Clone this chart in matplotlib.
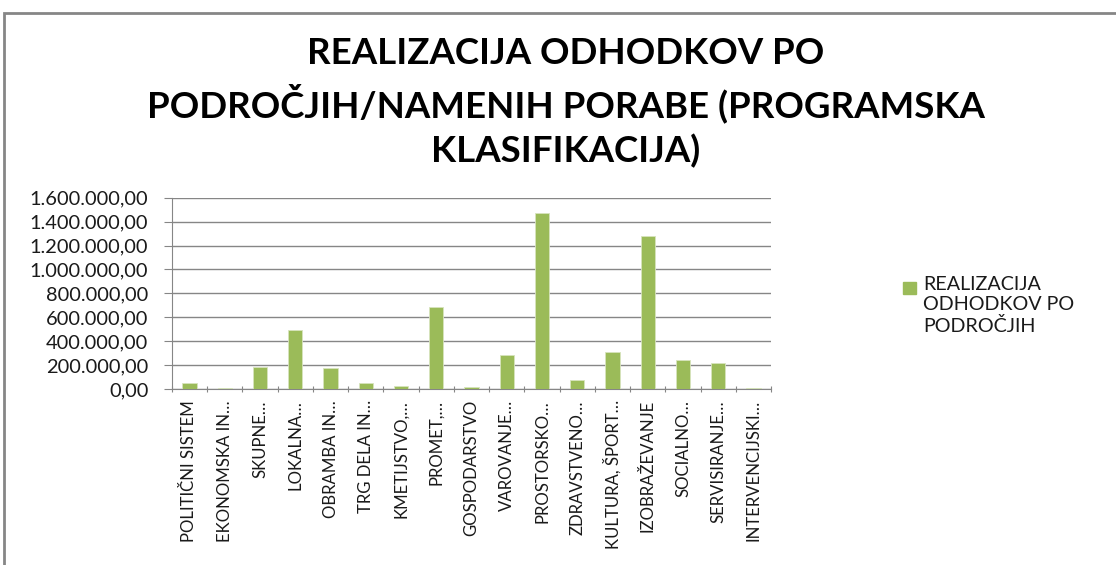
import matplotlib.pyplot as plt
from matplotlib.patches import Rectangle
from matplotlib.ticker import FuncFormatter
import numpy as np

plt.rcParams['font.family'] = ['Lato', 'DejaVu Sans']

# kategorije (skrajšane kot v izvirniku)
categories = [
    'POLITIČNI SISTEM', 'EKONOMSKA IN…', 'SKUPNE…', 'LOKALNA…', 'OBRAMBA IN…',
    'TRG DELA IN…', 'KMETIJSTVO,…', 'PROMET,…', 'GOSPODARSTVO', 'VAROVANJE…',
    'PROSTORSKO…', 'ZDRAVSTVENO…', 'KULTURA, ŠPORT…', 'IZOBRAŽEVANJE',
    'SOCIALNO…', 'SERVISIRANJE…', 'INTERVENCIJSKI…',
]
values = [
    53000, 8000, 182000, 491000, 173000,
    53000, 27000, 686000, 17000, 285000,
    1470000, 75000, 310000, 1280000,
    240000, 215000, 8000,
]
series_name = 'REALIZACIJA\nODHODKOV PO\nPODROČJIH'
title = 'REALIZACIJA ODHODKOV PO\nPODROČJIH/NAMENIH PORABE (PROGRAMSKA\nKLASIFIKACIJA)'
y_ticks = [0, 200000, 400000, 600000, 800000, 1000000, 1200000, 1400000, 1600000]

bar_color = '#9BBB59'
grid_color = '#868686'


def fmt_si(v, pos):
    s = f'{v:,.2f}'
    return s.replace(',', 'X').replace('.', ',').replace('X', '.')


fig = plt.figure(figsize=(11.16, 5.65), dpi=100)
ax = fig.add_axes([0.154, 0.3115, 0.537, 0.3385])

x = np.arange(len(categories))
ax.bar(x, values, width=0.4, color=bar_color, edgecolor='#d7e4bd', linewidth=0.6,
       zorder=3)

ax.set_xlim(-0.5, len(categories) - 0.5)
ax.set_ylim(0, 1600000)
ax.set_yticks(y_ticks)
ax.yaxis.set_major_formatter(FuncFormatter(fmt_si))
ax.yaxis.grid(True, color=grid_color, linewidth=1, zorder=0)

# kljukice na mejah kategorij, napisi na sredini
ax.set_xticks(np.arange(len(categories) + 1) - 0.5)
ax.set_xticklabels([])
ax.set_xticks(x, minor=True)
ax.set_xticklabels(categories, minor=True, rotation=90, va='top', ha='center')
ax.tick_params(axis='x', which='minor', length=0, pad=8, labelsize=12.1, colors='#1a1a1a')
ax.tick_params(axis='x', which='major', length=5, color=grid_color, direction='inout')
ax.tick_params(axis='y', length=6, color=grid_color, labelsize=14.4, pad=11, labelcolor='#1a1a1a')

for side in ['top', 'right']:
    ax.spines[side].set_visible(False)
ax.spines['left'].set_color(grid_color)
ax.spines['bottom'].set_color(grid_color)

fig.text(0.507, 0.818, title, ha='center', va='center', fontsize=26.4, fontweight='bold',
         linespacing=1.38)

# legenda (ročno, kvadrat poravnan s prvo vrstico kot v Excelu)
fig.patches.append(Rectangle((903 / 1116, 1 - 294 / 565), 13 / 1116, 12 / 565,
                             transform=fig.transFigure, color=bar_color))
fig.text(923 / 1116, 1 - 276 / 565, series_name, ha='left', va='top', fontsize=14.2,
         linespacing=1.25, color='#1a1a1a')

# okvir grafikona
fig.patches.append(Rectangle((0.0036, -0.05), 1.1, 0.027 + 1.0, transform=fig.transFigure,
                             fill=False, edgecolor=grid_color, linewidth=2))

plt.savefig('out.png', dpi=100)
plt.close()
